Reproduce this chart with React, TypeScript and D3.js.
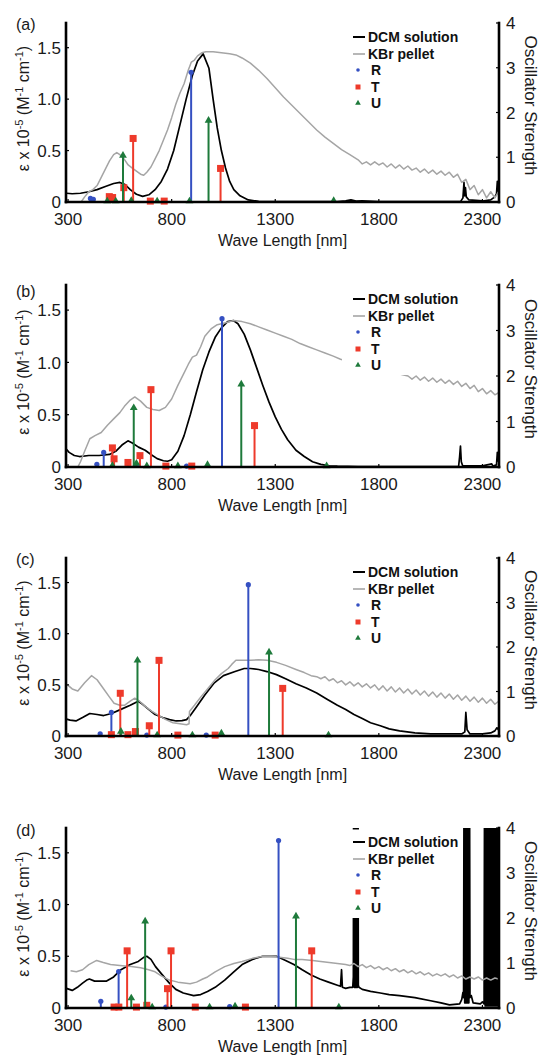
import React from 'react';
import * as d3 from 'd3';

type Pt = [number, number];

// wavelength axis and value axes
const xDomain: [number, number] = [290, 2380];
const xTicks = [300, 800, 1300, 1800, 2300];
const leftMax = 1.74;
const leftTicks = [0, 0.5, 1.0, 1.5];
const rightMax = 4;
const rightTicks = [0, 1, 2, 3, 4];

// ---------- panel (a) ----------
const dcmA: Pt[] = [[292,0.085],[320,0.08],[360,0.085],[400,0.1],[440,0.12],[480,0.15],[520,0.18],[550,0.19],[575,0.17],[600,0.12],[630,0.075],[660,0.055],[690,0.07],[720,0.12],[750,0.2],[780,0.32],[810,0.5],[840,0.75],[870,1.0],[900,1.23],[925,1.37],[952,1.44],[980,1.3],[1000,1.0],[1020,0.72],[1040,0.5],[1060,0.33],[1080,0.2],[1100,0.12],[1130,0.06],[1170,0.02],[1220,0.006],[1400,0.003],[1600,0.005],[1640,0.012],[1665,0.02],[1690,0.008],[1720,0.012],[1800,0.004],[2000,0.004],[2195,0.006],[2206,0.04],[2211,0.19],[2214,0.06],[2218,0.14],[2222,0.05],[2235,0.02],[2300,0.01],[2340,0.02],[2360,0.05],[2368,0.08],[2372,0.2],[2376,0.1],[2380,0.12]];
const kbrA: Pt[] = [[363,0],[380,0.05],[400,0.1],[420,0.12],[440,0.16],[460,0.24],[480,0.32],[500,0.4],[520,0.46],[535,0.48],[550,0.46],[570,0.42],[590,0.36],[610,0.33],[630,0.3],[650,0.27],[665,0.26],[680,0.29],[700,0.34],[720,0.42],[740,0.5],[760,0.6],[780,0.7],[800,0.82],[820,0.95],[840,1.06],[860,1.15],[880,1.28],[895,1.36],[910,1.38],[925,1.42],[945,1.45],[965,1.46],[1000,1.46],[1040,1.45],[1080,1.44],[1110,1.43],[1140,1.4],[1180,1.35],[1220,1.28],[1260,1.2],[1300,1.11],[1340,1.02],[1380,0.94],[1420,0.86],[1460,0.78],[1500,0.7],[1540,0.63],[1580,0.57],[1620,0.51],[1660,0.46],[1700,0.41],[1720,0.37],[1740,0.39],[1760,0.36],[1780,0.39],[1800,0.36],[1820,0.38],[1840,0.34],[1860,0.37],[1880,0.33],[1900,0.36],[1920,0.32],[1940,0.35],[1960,0.31],[1980,0.33],[2000,0.29],[2020,0.32],[2040,0.28],[2060,0.31],[2080,0.27],[2100,0.3],[2120,0.26],[2140,0.29],[2160,0.24],[2180,0.27],[2200,0.19],[2220,0.22],[2240,0.12],[2260,0.16],[2280,0.07],[2300,0.12],[2320,0.04],[2340,0.1],[2360,0.04],[2378,0.1]];
const rA: Pt[] = [[408,0.08],[422,0.06],[894,2.9]];
const tA: Pt[] = [[499,0.12],[515,0.1],[569,0.32],[614,1.42],[697,0.02],[764,0.02],[1036,0.75]];
const uA: Pt[] = [[489,0.02],[530,0.02],[565,1.04],[605,0.03],[730,0.02],[886,0.02],[978,1.82],[1582,0.03]];

// ---------- panel (b) ----------
const dcmB: Pt[] = [[292,0.17],[305,0.14],[330,0.11],[355,0.1],[400,0.11],[450,0.11],[500,0.12],[530,0.15],[560,0.21],[589,0.25],[610,0.23],[640,0.19],[672,0.16],[700,0.12],[730,0.08],[760,0.06],[780,0.055],[800,0.07],[830,0.15],[860,0.3],[890,0.5],[920,0.72],[950,0.93],[980,1.1],[1010,1.24],[1040,1.33],[1070,1.39],[1098,1.4],[1120,1.37],[1150,1.27],[1180,1.12],[1210,0.95],[1240,0.78],[1270,0.62],[1300,0.48],[1330,0.36],[1360,0.26],[1400,0.16],[1440,0.1],[1480,0.05],[1520,0.025],[1560,0.012],[1600,0.008],[1700,0.005],[1800,0.004],[2100,0.004],[2185,0.005],[2190,0.1],[2194,0.2],[2198,0.05],[2205,0.01],[2300,0.01],[2345,0.03],[2350,0.01],[2368,0.02],[2372,0.14],[2378,0.05]];
const kbrB: Pt[] = [[347,0],[360,0.05],[380,0.15],[405,0.27],[430,0.3],[460,0.33],[490,0.4],[520,0.46],[550,0.52],[572,0.58],[600,0.64],[622,0.67],[650,0.63],[680,0.57],[710,0.55],[740,0.54],[770,0.57],[800,0.65],[830,0.78],[860,0.9],[880,0.98],[900,1.05],[920,1.07],[940,1.15],[960,1.25],[990,1.32],[1020,1.36],[1060,1.38],[1100,1.4],[1140,1.39],[1180,1.37],[1220,1.34],[1260,1.31],[1300,1.28],[1340,1.25],[1380,1.22],[1420,1.18],[1460,1.15],[1500,1.12],[1540,1.09],[1580,1.06],[1615,1.03],[1650,1.01],[1700,0.98],[1750,0.96],[1800,0.93],[1850,0.91],[1900,0.89],[1941,0.87],[1960,0.84],[1980,0.87],[2000,0.83],[2020,0.86],[2040,0.82],[2060,0.85],[2080,0.81],[2100,0.84],[2120,0.8],[2140,0.83],[2160,0.79],[2180,0.82],[2200,0.77],[2220,0.8],[2240,0.75],[2260,0.78],[2280,0.72],[2300,0.75],[2320,0.7],[2340,0.73],[2360,0.69],[2378,0.71]];
const rB: Pt[] = [[439,0.06],[472,0.32],[630,0.05],[872,0.02],[1043,3.26]];
const tB: Pt[] = [[514,0.42],[522,0.18],[589,0.1],[647,0.25],[700,1.7],[772,0.02],[897,0.02],[1200,0.91]];
const uB: Pt[] = [[514,0.03],[617,1.3],[630,0.08],[680,0.02],[830,0.02],[973,0.05],[1136,1.82],[1548,0.02]];

// ---------- panel (c) ----------
const dcmC: Pt[] = [[292,0.165],[310,0.155],[338,0.147],[370,0.18],[405,0.22],[440,0.21],[472,0.2],[510,0.22],[555,0.26],[600,0.3],[639,0.34],[660,0.31],[689,0.26],[720,0.21],[756,0.18],[790,0.16],[822,0.147],[850,0.15],[872,0.16],[890,0.2],[922,0.29],[960,0.4],[1006,0.52],[1050,0.59],[1106,0.63],[1150,0.66],[1180,0.66],[1220,0.65],[1260,0.63],[1306,0.6],[1350,0.56],[1400,0.51],[1450,0.47],[1500,0.42],[1550,0.36],[1600,0.3],[1640,0.26],[1680,0.21],[1720,0.17],[1760,0.13],[1807,0.1],[1850,0.07],[1900,0.05],[1974,0.03],[2050,0.02],[2141,0.02],[2200,0.02],[2215,0.04],[2220,0.23],[2226,0.06],[2240,0.02],[2300,0.02],[2340,0.03],[2360,0.05],[2370,0.08],[2378,0.06]];
const kbrC: Pt[] = [[297,0.5],[320,0.46],[347,0.44],[380,0.52],[413,0.59],[440,0.55],[472,0.46],[500,0.38],[522,0.32],[550,0.3],[572,0.3],[600,0.34],[622,0.37],[645,0.34],[672,0.29],[705,0.24],[739,0.2],[772,0.16],[806,0.13],[840,0.12],[872,0.11],[884,0.12],[886,0.24],[910,0.3],[940,0.38],[973,0.46],[1010,0.55],[1040,0.61],[1073,0.66],[1090,0.7],[1110,0.74],[1140,0.74],[1180,0.74],[1220,0.745],[1260,0.74],[1306,0.72],[1350,0.69],[1400,0.65],[1440,0.62],[1473,0.59],[1500,0.58],[1520,0.56],[1540,0.58],[1560,0.54],[1580,0.56],[1600,0.52],[1620,0.54],[1640,0.5],[1660,0.53],[1680,0.49],[1700,0.52],[1720,0.48],[1740,0.51],[1760,0.47],[1780,0.5],[1800,0.45],[1820,0.49],[1840,0.44],[1860,0.48],[1880,0.43],[1900,0.47],[1920,0.42],[1940,0.46],[1960,0.41],[1980,0.45],[2000,0.4],[2020,0.44],[2040,0.39],[2060,0.43],[2080,0.38],[2100,0.42],[2120,0.37],[2140,0.41],[2160,0.36],[2180,0.4],[2200,0.35],[2220,0.39],[2240,0.34],[2260,0.38],[2280,0.33],[2300,0.37],[2320,0.32],[2340,0.36],[2360,0.31],[2378,0.34]];
const rC: Pt[] = [[455,0.05],[509,0.53],[680,0.02],[967,0.02],[1170,3.4]];
const tC: Pt[] = [[509,0.03],[552,0.96],[589,0.03],[625,0.1],[692,0.23],[739,1.7],[830,0.02],[1010,0.02],[1336,1.07]];
const uC: Pt[] = [[555,0.1],[635,1.7],[730,0.02],[900,0.02],[1040,0.06],[1270,1.88],[1557,0.02]];

// ---------- panel (d) ----------
const dcmD: Pt[] = [[292,0.19],[320,0.17],[345,0.2],[370,0.24],[390,0.27],[403,0.28],[428,0.26],[460,0.26],[486,0.26],[520,0.3],[555,0.37],[600,0.42],[639,0.45],[665,0.49],[680,0.5],[700,0.47],[722,0.4],[755,0.32],[789,0.24],[820,0.18],[856,0.145],[906,0.12],[940,0.13],[973,0.16],[1010,0.2],[1056,0.27],[1100,0.35],[1140,0.42],[1190,0.47],[1240,0.5],[1280,0.5],[1306,0.5],[1350,0.46],[1390,0.42],[1430,0.37],[1473,0.32],[1515,0.28],[1557,0.25],[1600,0.22],[1615,0.21],[1620,0.37],[1624,0.2],[1640,0.19],[1660,0.2],[1674,0.2],[1677,0.3],[1679,3],[1681.5,0.2],[1684,3],[1686.5,0.2],[1689,3],[1691.5,0.2],[1694,3],[1696.5,0.2],[1699,3],[1701,0.22],[1704,0.2],[1720,0.18],[1760,0.16],[1807,0.145],[1850,0.13],[1900,0.12],[1974,0.1],[2050,0.07],[2100,0.05],[2141,0.03],[2190,0.04],[2200,0.08],[2206,0.15],[2209,0.1],[2212,3],[2214.5,0.05],[2217,3],[2219.5,0.05],[2222,3],[2224.5,0.05],[2227,3],[2229.5,0.05],[2232,3],[2234.5,0.05],[2237,3],[2240,0.1],[2246,0.12],[2255,0.05],[2290,0.04],[2300,0.06],[2308,0.04],[2311,3],[2313.5,0.02],[2316,3],[2318.5,0.02],[2321,3],[2323.5,0.02],[2326,3],[2328.5,0.02],[2331,3],[2333.5,0.02],[2336,3],[2338.5,0.02],[2341,3],[2343.5,0.02],[2346,3],[2348.5,0.02],[2351,3],[2353.5,0.02],[2356,3],[2358.5,0.02],[2361,3],[2363.5,0.02],[2366,3],[2368.5,0.02],[2371,3],[2373.5,0.02],[2376,3],[2378,0.02]];
const kbrD: Pt[] = [[312,0.36],[340,0.35],[370,0.37],[400,0.42],[438,0.46],[470,0.44],[505,0.42],[550,0.41],[605,0.4],[650,0.39],[689,0.37],[720,0.35],[750,0.31],[789,0.27],[830,0.25],[870,0.24],[889,0.235],[920,0.25],[950,0.28],[973,0.3],[1010,0.35],[1056,0.4],[1100,0.43],[1140,0.45],[1190,0.48],[1240,0.5],[1280,0.5],[1320,0.49],[1360,0.48],[1390,0.47],[1430,0.47],[1480,0.46],[1520,0.45],[1560,0.44],[1600,0.43],[1640,0.42],[1660,0.41],[1680,0.43],[1700,0.4],[1720,0.42],[1740,0.39],[1760,0.41],[1780,0.38],[1800,0.4],[1820,0.37],[1840,0.39],[1860,0.36],[1880,0.38],[1900,0.35],[1920,0.37],[1940,0.34],[1960,0.36],[1980,0.33],[2000,0.35],[2020,0.32],[2040,0.34],[2060,0.31],[2080,0.33],[2100,0.31],[2120,0.33],[2140,0.3],[2160,0.32],[2180,0.29],[2200,0.31],[2220,0.28],[2240,0.3],[2260,0.28],[2280,0.3],[2300,0.27],[2320,0.29],[2340,0.27],[2360,0.29],[2378,0.28]];
const rD: Pt[] = [[458,0.15],[522,0.02],[544,0.81],[772,0.02],[1080,0.03],[1316,3.72]];
const tD: Pt[] = [[522,0.02],[545,0.02],[585,1.27],[630,0.02],[680,0.06],[780,0.43],[797,1.27],[914,0.02],[1156,0.02],[1476,1.27]];
const uD: Pt[] = [[605,0.22],[672,1.93],[706,0.02],[983,0.02],[1106,0.04],[1400,2.04],[1607,0.02]];

const legendNames = ['DCM solution', 'KBr pellet', 'R', 'T', 'U'];

const BLACK = '#000';
const GRAY = '#a5a5a5';
const BLUE = '#3550c2';
const RED = '#ee3a2b';
const GREEN = '#1e7a3b';
const FONT = "'Liberation Sans', Arial, Helvetica, sans-serif";

const X0 = 66;
const X1 = 499;

interface PanelData {
  label: string;
  top: number;
  bottom: number;
  labelDy: number;
  dcm: Pt[];
  kbr: Pt[];
  r: Pt[];
  t: Pt[];
  u: Pt[];
}

const panels: PanelData[] = [
  { label: '(a)', top: 23, bottom: 202, labelDy: 7, dcm: dcmA, kbr: kbrA, r: rA, t: tA, u: uA },
  { label: '(b)', top: 285, bottom: 467, labelDy: 12, dcm: dcmB, kbr: kbrB, r: rB, t: tB, u: uB },
  { label: '(c)', top: 558, bottom: 736, labelDy: 7, dcm: dcmC, kbr: kbrC, r: rC, t: tC, u: uC },
  { label: '(d)', top: 828, bottom: 1008, labelDy: 8, dcm: dcmD, kbr: kbrD, r: rD, t: tD, u: uD },
];

const triPath = d3.symbol(d3.symbolTriangle, 26)() || '';
const triSmall = d3.symbol(d3.symbolTriangle, 14)() || '';

function Marker({ kind, cx, cy, small }: { kind: string; cx: number; cy: number; small?: boolean }) {
  if (kind === 'R') return <circle cx={cx} cy={cy} r={small ? 1.8 : 2.6} fill={BLUE} />;
  if (kind === 'T') {
    const s = small ? 5 : 7;
    return <rect x={cx - s / 2} y={cy - s / 2} width={s} height={s} fill={RED} />;
  }
  return <path d={small ? triSmall : triPath} transform={`translate(${cx},${cy})`} fill={GREEN} />;
}

function Panel({ p, idx }: { p: PanelData; idx: number }) {
  const x = d3.scaleLinear().domain(xDomain).range([X0, X1]);
  const yL = d3.scaleLinear().domain([0, leftMax]).range([p.bottom, p.top]);
  const yR = d3.scaleLinear().domain([0, rightMax]).range([p.bottom, p.top]);
  const line = d3.line<Pt>().x(d => x(d[0])).y(d => yL(d[1]));
  const clip = `plot-clip-${idx}`;
  const mid = (p.top + p.bottom) / 2;

  const stemSets = [
    { kind: 'R', color: BLUE, data: p.r },
    { kind: 'T', color: RED, data: p.t },
    { kind: 'U', color: GREEN, data: p.u },
  ];

  const legendY = [14, 31, 47, 64, 80].map(v => p.top + v);

  return (
    <g>
      <defs>
        <clipPath id={clip}>
          <rect x={X0} y={p.top} width={X1 - X0} height={p.bottom - p.top} />
        </clipPath>
      </defs>

      <g clipPath={`url(#${clip})`}>
        <path d={line(p.dcm) || ''} fill="none" stroke={BLACK} strokeWidth={1.7} strokeLinejoin="round" />
        <path d={line(p.kbr) || ''} fill="none" stroke={GRAY} strokeWidth={1.5} strokeLinejoin="round" />
      </g>

      {stemSets.map(s => (
        <g key={s.kind}>
          {s.data.map((d, i) => (
            <g key={i}>
              <line x1={x(d[0])} x2={x(d[0])} y1={yR(0)} y2={yR(d[1])} stroke={s.color} strokeWidth={2} />
              <Marker kind={s.kind} cx={x(d[0])} cy={yR(d[1])} />
            </g>
          ))}
        </g>
      ))}

      {/* legend with opaque background */}
      <rect x={342} y={p.top + 1.5} width={119} height={88.5} fill="#fff" />
      {legendNames.map((name, i) => {
        const y = legendY[i];
        const isLine = i < 2;
        return (
          <g key={name}>
            {isLine ? (
              <line x1={353} x2={365} y1={y} y2={y} stroke={i === 0 ? BLACK : GRAY} strokeWidth={i === 0 ? 2 : 1.6} />
            ) : (
              <Marker kind={name} cx={358} cy={y} small />
            )}
            <text x={isLine ? 368 : 371} y={y} dy="0.36em" fontSize={14} fontWeight="bold" fill="#111">{name}</text>
          </g>
        );
      })}

      {/* axes */}
      <g stroke={BLACK} strokeWidth={2.6} fill="none" strokeLinecap="square">
        <line x1={X0} x2={X0} y1={p.top} y2={p.bottom} />
        <line x1={X1} x2={X1} y1={p.top} y2={p.bottom} />
        <line x1={X0} x2={X1} y1={p.bottom} y2={p.bottom} />
      </g>
      <g stroke={BLACK} strokeWidth={1.2}>
        {leftTicks.map(t => <line key={t} x1={X0} x2={X0 + 3} y1={yL(t)} y2={yL(t)} />)}
        {rightTicks.map(t => <line key={t} x1={X1 - 3} x2={X1} y1={yR(t)} y2={yR(t)} />)}
        {xTicks.map(t => <line key={t} x1={x(t)} x2={x(t)} y1={p.bottom} y2={p.bottom - 3} />)}
      </g>
      <g fontSize={17} fill="#1a1a1a">
        {leftTicks.map(t => (
          <text key={t} x={61} y={yL(t)} dy="0.36em" textAnchor="end">{t === 0 ? '0' : t.toFixed(1)}</text>
        ))}
        {rightTicks.map(t => (
          <text key={t} x={506} y={yR(t)} dy="0.36em">{t}</text>
        ))}
        {xTicks.map(t => (
          <text key={t} x={x(t)} y={p.bottom + 23} textAnchor="middle">{t}</text>
        ))}
      </g>
      <text x={(X0 + X1) / 2} y={p.bottom + 44} textAnchor="middle" fontSize={16} fill="#1a1a1a">Wave Length [nm]</text>
      <text x={16} y={p.top + p.labelDy} fontSize={16} fill="#1a1a1a">{p.label}</text>
      <text transform={`translate(29,${mid - 4}) rotate(-90)`} textAnchor="middle" fontSize={16} fill="#1a1a1a">
        <tspan>ε x 10</tspan>
        <tspan fontSize={11} dy={-6}>-5</tspan>
        <tspan dy={6}> (M</tspan>
        <tspan fontSize={11} dy={-6}>-1</tspan>
        <tspan dy={6}> cm</tspan>
        <tspan fontSize={11} dy={-6}>-1</tspan>
        <tspan dy={6}>)</tspan>
      </text>
      <text transform={`translate(525,${mid - 7}) rotate(90)`} textAnchor="middle" fontSize={17} fill="#1a1a1a">Oscillator Strength</text>
    </g>
  );
}

export default function App() {
  return (
    <svg width={542} height={1057} style={{ position: 'absolute', left: 0, top: 0 }} fontFamily={FONT}>
      <rect width={542} height={1057} fill="#fff" />
      {panels.map((p, i) => <Panel key={p.label} p={p} idx={i} />)}
    </svg>
  );
}
